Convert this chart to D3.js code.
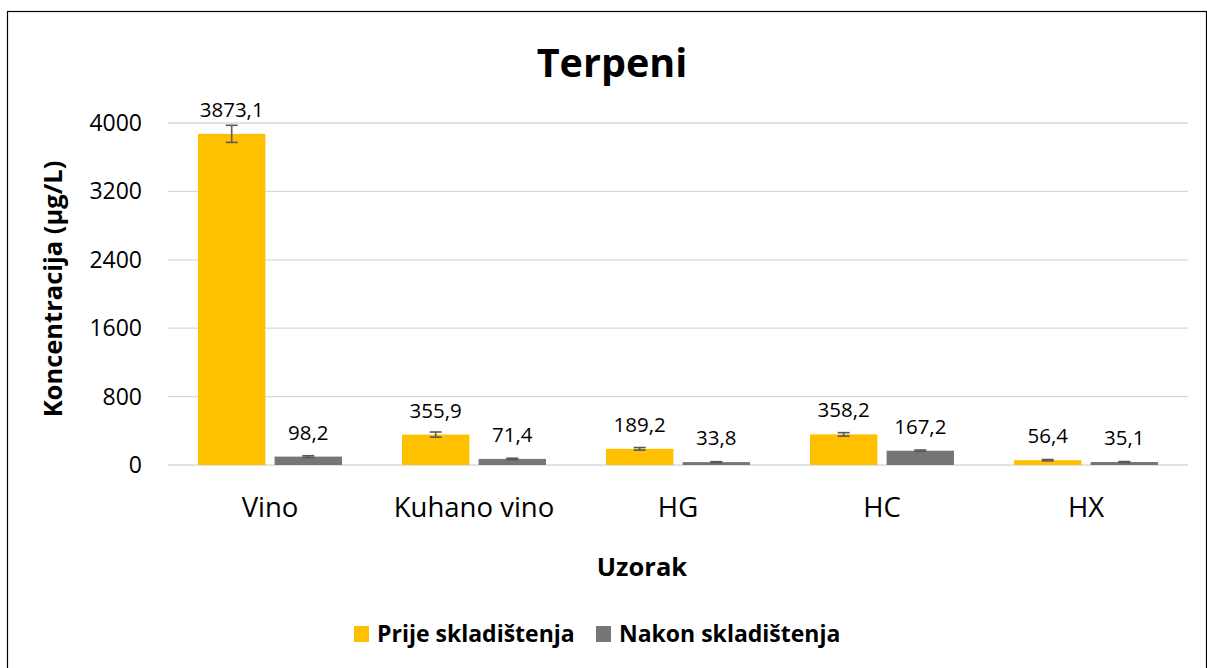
<!DOCTYPE html>
<html>
<head>
<meta charset="utf-8">
<script src="https://cdn.jsdelivr.net/npm/d3@7"></script>
<style>
  body { margin: 0; background: #fff; }
  svg { display: block; font-family: "Open Sans", Lato, sans-serif; }
</style>
</head>
<body>
<svg id="chart" width="1207" height="668"></svg>
<script>
const categories = ["Vino", "Kuhano vino", "HG", "HC", "HX"];
const seriesNames = ["Prije skladištenja", "Nakon skladištenja"];
const prije = [3873.1, 355.9, 189.2, 358.2, 56.4];
const nakon = [98.2, 71.4, 33.8, 167.2, 35.1];
const prijeErr = [100, 30, 15, 20, 8];
const nakonErr = [10, 8, 5, 8, 5];
const yTicks = [0, 800, 1600, 2400, 3200, 4000];
const colors = ["#FFC000", "#767676"];

const svg = d3.select("#chart");
const width = 1207, height = 668;
const margin = {top: 123, right: 19, bottom: 203, left: 168};

// outer frame
svg.append("rect")
	.attr("x", 7.5).attr("y", 11.5)
	.attr("width", width - 8).attr("height", height)
	.attr("fill", "none").attr("stroke", "#000").attr("stroke-width", 1.2);

let x = d3.scaleBand()
	.domain(categories)
	.range([margin.left, width - margin.right])
	.paddingInner(0.294).paddingOuter(0.147);

let xs = d3.scaleBand()
	.domain(seriesNames)
	.range([0, x.bandwidth()])
	.paddingInner(0.12);

let y = d3.scaleLinear()
	.domain([0, 4000])
	.range([height - margin.bottom, margin.top]);

// gridlines
svg.append("g")
	.selectAll("line")
	.data(yTicks)
	.join("line")
	.attr("x1", margin.left).attr("x2", width - margin.right)
	.attr("y1", d => y(d)).attr("y2", d => y(d))
	.attr("stroke", "#d9d9d9").attr("stroke-width", 1.3);

// y tick labels
svg.append("g")
	.selectAll("text")
	.data(yTicks)
	.join("text")
	.attr("x", 142).attr("y", d => y(d))
	.attr("dy", "0.35em")
	.attr("text-anchor", "end")
	.attr("font-size", 23)
	.attr("fill", "#000")
	.text(d => d);

const data = [];
categories.forEach((c, i) => {
	data.push({cat: c, s: 0, v: prije[i], e: prijeErr[i]});
	data.push({cat: c, s: 1, v: nakon[i], e: nakonErr[i]});
});

const bx = d => x(d.cat) + xs(seriesNames[d.s]);

svg.append("g")
	.selectAll("rect")
	.data(data)
	.join("rect")
	.attr("x", bx)
	.attr("y", d => y(d.v))
	.attr("width", xs.bandwidth())
	.attr("height", d => y(0) - y(d.v))
	.attr("fill", d => colors[d.s]);

// error bars
const eg = svg.append("g").attr("stroke", "#595959").attr("stroke-width", 1.6);
data.forEach(d => {
	const cx = bx(d) + xs.bandwidth() / 2;
	eg.append("line")
		.attr("x1", cx).attr("x2", cx)
		.attr("y1", y(d.v + d.e)).attr("y2", y(Math.max(0, d.v - d.e)));
	[d.v + d.e, Math.max(0, d.v - d.e)].forEach(val => {
		eg.append("line")
			.attr("x1", cx - 6).attr("x2", cx + 6)
			.attr("y1", y(val)).attr("y2", y(val));
	});
});

// data labels
svg.append("g")
	.selectAll("text")
	.data(data)
	.join("text")
	.attr("x", d => bx(d) + xs.bandwidth() / 2)
	.attr("y", d => y(d.v) - 17)
	.attr("text-anchor", "middle")
	.attr("font-size", 20.5)
	.attr("fill", "#000")
	.text(d => d.v.toFixed(1).replace(".", ","));

// category labels
svg.append("g")
	.selectAll("text")
	.data(categories)
	.join("text")
	.attr("x", d => x(d) + x.bandwidth() / 2)
	.attr("y", 517)
	.attr("text-anchor", "middle")
	.attr("font-size", 27.5)
	.text(d => d);

// title
svg.append("text")
	.attr("x", 612).attr("y", 77)
	.attr("text-anchor", "middle")
	.attr("font-size", 39.5).attr("font-weight", "bold")
	.text("Terpeni");

// axis titles
svg.append("text")
	.attr("x", 642).attr("y", 576)
	.attr("text-anchor", "middle")
	.attr("font-size", 25.5).attr("font-weight", "bold")
	.text("Uzorak");

svg.append("text")
	.attr("transform", "translate(62,289) rotate(-90)")
	.attr("text-anchor", "middle")
	.attr("font-size", 25.5).attr("font-weight", "bold")
	.text("Koncentracija (µg/L)");

// legend
const legendPos = [354, 596];
const leg = svg.append("g");
seriesNames.forEach((s, i) => {
	leg.append("rect")
		.attr("x", legendPos[i]).attr("y", 626)
		.attr("width", 15).attr("height", 16)
		.attr("fill", colors[i]);
	leg.append("text")
		.attr("x", legendPos[i] + 23).attr("y", 642)
		.attr("font-size", 23).attr("font-weight", "bold")
		.text(s);
});
</script>
</body>
</html>
